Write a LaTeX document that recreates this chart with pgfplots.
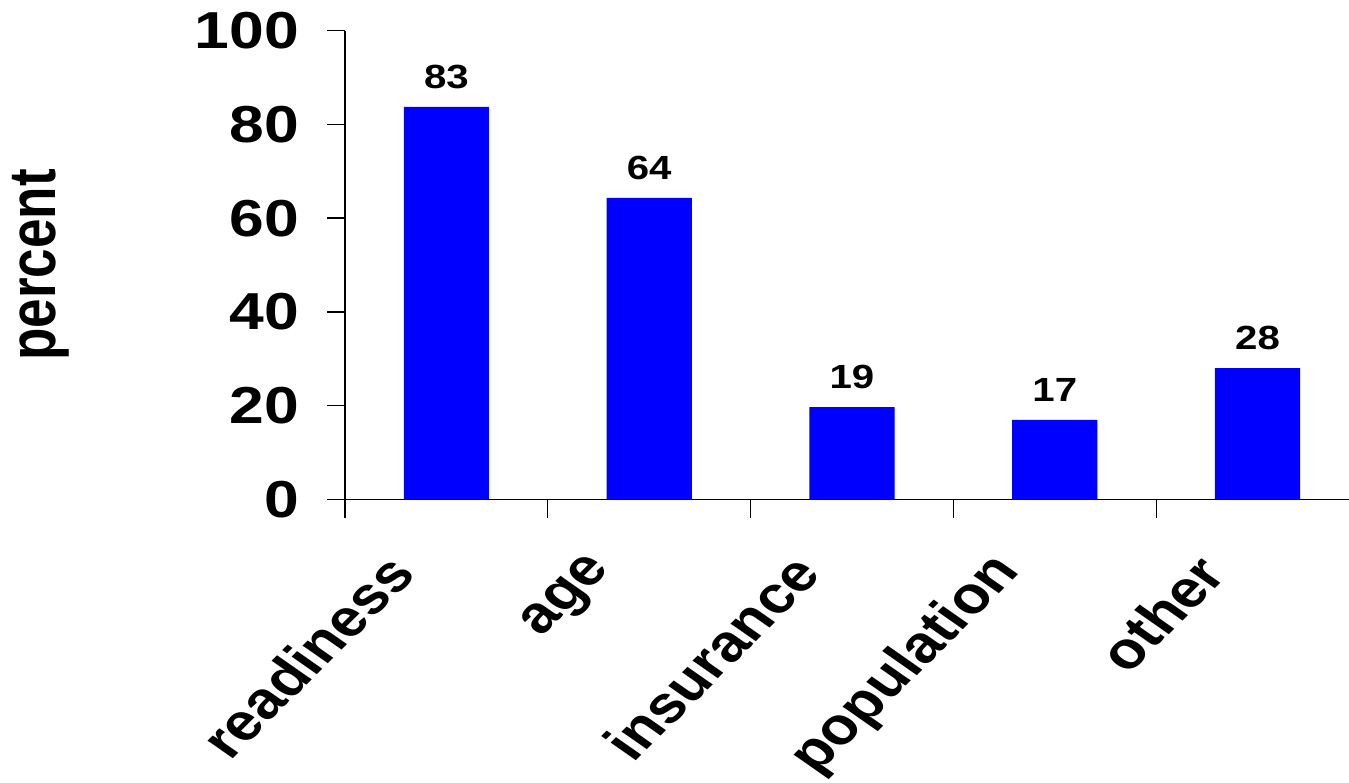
\documentclass[border=0pt]{standalone}
\usepackage{pgfplots}
\pgfplotsset{compat=1.18}
\usepackage{fontspec}
\setmainfont{Liberation Sans}
\begin{document}
\begin{tikzpicture}
\useasboundingbox (-345pt,-282.5pt) rectangle (1004pt,499.5pt);
\begin{axis}[
  at={(0pt,0pt)}, anchor=south west,
  scale only axis, width=1014pt, height=469pt,
  xmin=-0.5, xmax=4.5, ymin=0, ymax=100,
  axis x line*=bottom, axis y line*=left,
  axis line style={line width=1.3pt, black},
  tick style={line width=1.3pt, black},
  tick align=outside, major tick length=18pt,
  xtick={-0.5,0.5,1.5,2.5,3.5,4.5},
  x tick label as interval,
  xticklabels={readiness,age,insurance,population,other},
  ytick={0,20,40,60,80,100},
  /pgf/number format/assume math mode=true,
  yticklabel style={font=\fontsize{52}{60}\selectfont\bfseries, anchor=east, inner sep=0pt, xshift=-28pt, xscale=1.2},
  xticklabel style={font=\fontsize{52}{60}\selectfont\bfseries, anchor=east, inner sep=0pt, xshift=-46pt, yshift=-46pt, xscale=1.2, rotate=50},
  ylabel={percent},
  every axis y label/.style={at={(axis description cs:0,0.5)}, xshift=-304pt, anchor=center, xscale=1.25, rotate=90, font=\fontsize{53}{60}\selectfont\bfseries, inner sep=0pt},
  nodes near coords,
  point meta=explicit symbolic,
  every node near coord/.append style={font=\fontsize{33.5}{40}\selectfont\bfseries, anchor=south, inner sep=0pt, yshift=18pt, xscale=1.2},
]
\addplot[ybar, bar width=0.42, fill=blue, draw=none] table[meta=lab] {
x y lab
0 83.7 83
1 64.3 64
2 19.7 19
3 17 17
4 28 28
};
\end{axis}
\end{tikzpicture}
\end{document}
